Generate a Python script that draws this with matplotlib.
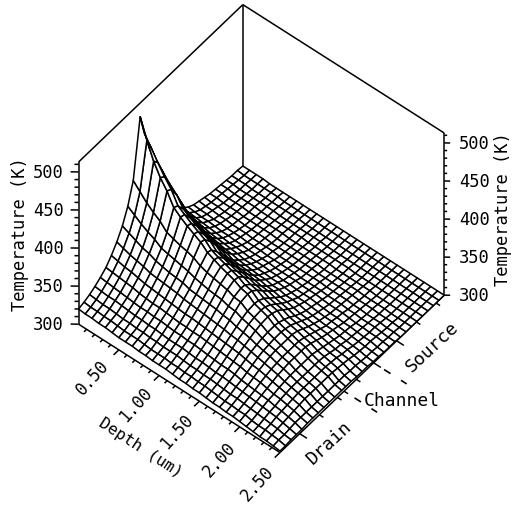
import numpy as np
import matplotlib
matplotlib.use("Agg")
import matplotlib.pyplot as plt
from mpl_toolkits.mplot3d import proj3d

plt.rcParams['font.family'] = ['DejaVu Sans Mono']

# depth in um, one row of the table per depth
depth = [0.0, 0.083, 0.167, 0.25, 0.333, 0.417, 0.5, 0.583, 0.667, 0.75, 0.833, 0.917, 1.0,
         1.083, 1.167, 1.25, 1.333, 1.417, 1.5, 1.583, 1.667, 1.75, 1.833, 1.917, 2.0,
         2.083, 2.167, 2.25, 2.333, 2.417, 2.5]

# position along the device, 0 = drain side, 1 = source side
channel = [0.0, 0.033, 0.067, 0.1, 0.133, 0.167, 0.2, 0.233, 0.267, 0.3, 0.333, 0.375,
           0.4, 0.433, 0.467, 0.5, 0.533, 0.567, 0.6, 0.633, 0.667, 0.7, 0.733, 0.767,
           0.8, 0.833, 0.867, 0.9, 0.933, 0.967, 1.0]

# temperature in K
temperature = [
    [320, 322, 325, 329, 334, 340, 349, 360, 374, 393, 420, 495, 468, 440, 412, 388, 366, 348, 333, 322, 316, 312, 310, 308, 306, 305, 304, 303, 302, 302, 301],
    [319, 321, 324, 328, 333, 339, 347, 357, 370, 387, 411, 470, 455, 431, 406, 383, 362, 345, 331, 321, 315, 311, 309, 307, 306, 305, 304, 303, 302, 301, 301],
    [319, 321, 323, 327, 332, 338, 345, 354, 366, 381, 402, 448, 441, 421, 398, 377, 358, 342, 329, 320, 314, 311, 309, 307, 305, 304, 303, 302, 302, 301, 301],
    [318, 320, 323, 327, 331, 337, 344, 352, 362, 376, 395, 432, 428, 411, 391, 371, 354, 339, 327, 319, 314, 310, 308, 306, 305, 304, 303, 302, 301, 301, 301],
    [318, 320, 322, 326, 330, 336, 342, 350, 360, 372, 389, 420, 417, 403, 384, 366, 350, 336, 325, 318, 313, 310, 308, 306, 305, 304, 303, 302, 301, 301, 300],
    [317, 319, 321, 325, 329, 334, 340, 347, 356, 366, 380, 404, 401, 390, 374, 358, 344, 332, 323, 317, 312, 309, 307, 306, 304, 303, 303, 302, 301, 301, 300],
    [316, 318, 321, 324, 328, 333, 339, 346, 354, 364, 377, 397, 395, 384, 369, 354, 341, 330, 322, 316, 312, 309, 307, 305, 304, 303, 302, 302, 301, 301, 300],
    [316, 318, 320, 324, 328, 332, 338, 345, 352, 362, 374, 391, 389, 379, 365, 351, 339, 328, 321, 315, 311, 309, 307, 305, 304, 303, 302, 302, 301, 300, 300],
    [316, 318, 320, 323, 327, 332, 337, 344, 351, 360, 372, 386, 384, 374, 361, 348, 336, 326, 320, 315, 311, 308, 306, 305, 304, 303, 302, 301, 301, 300, 300],
    [315, 317, 319, 323, 327, 331, 336, 343, 350, 358, 369, 381, 379, 370, 358, 345, 334, 325, 319, 314, 310, 308, 306, 305, 304, 303, 302, 301, 301, 300, 300],
    [315, 316, 319, 322, 326, 330, 335, 341, 347, 355, 364, 373, 371, 362, 351, 340, 330, 323, 317, 313, 310, 308, 306, 304, 303, 303, 302, 301, 301, 300, 300],
    [314, 316, 318, 321, 325, 329, 334, 340, 346, 353, 361, 369, 367, 359, 348, 338, 329, 322, 317, 313, 310, 307, 306, 304, 303, 302, 302, 301, 300, 300, 300],
    [314, 316, 318, 321, 325, 329, 334, 339, 345, 351, 359, 365, 364, 356, 346, 336, 328, 321, 316, 313, 310, 307, 305, 304, 303, 302, 302, 301, 300, 300, 300],
    [314, 315, 318, 321, 324, 328, 333, 338, 344, 350, 357, 362, 361, 353, 344, 335, 327, 320, 316, 312, 309, 307, 305, 304, 303, 302, 301, 301, 300, 300, 300],
    [313, 315, 317, 320, 324, 328, 332, 337, 343, 349, 355, 359, 358, 351, 342, 333, 326, 320, 315, 312, 309, 307, 305, 304, 303, 302, 301, 301, 300, 300, 300],
    [312, 314, 316, 319, 323, 327, 331, 336, 341, 346, 351, 354, 353, 347, 339, 331, 324, 318, 315, 311, 309, 307, 305, 304, 303, 302, 301, 300, 300, 300, 300],
    [312, 314, 316, 319, 322, 326, 330, 335, 340, 345, 350, 352, 351, 345, 337, 330, 323, 318, 314, 311, 309, 306, 305, 304, 303, 302, 301, 300, 300, 300, 300],
    [311, 313, 315, 318, 321, 325, 329, 333, 337, 341, 344, 345, 344, 340, 333, 327, 321, 316, 313, 310, 308, 306, 305, 303, 302, 302, 301, 300, 300, 300, 300],
    [311, 313, 315, 317, 320, 324, 328, 332, 335, 339, 341, 342, 341, 337, 331, 325, 320, 316, 312, 310, 308, 306, 305, 303, 302, 301, 301, 300, 300, 300, 300],
    [310, 312, 314, 317, 320, 323, 327, 330, 333, 336, 338, 339, 338, 335, 329, 323, 318, 315, 312, 310, 308, 306, 304, 303, 302, 301, 301, 300, 300, 300, 300],
    [309, 311, 313, 316, 319, 322, 325, 328, 330, 332, 333, 333, 332, 329, 325, 320, 316, 313, 311, 309, 307, 305, 304, 303, 302, 301, 300, 300, 300, 300, 300],
    [309, 310, 312, 315, 317, 320, 323, 326, 328, 329, 330, 330, 329, 327, 323, 319, 315, 312, 310, 308, 306, 305, 304, 303, 302, 301, 300, 300, 300, 300, 300],
    [308, 310, 312, 314, 316, 319, 322, 324, 326, 327, 327, 327, 327, 325, 321, 317, 314, 311, 309, 307, 306, 305, 304, 303, 302, 301, 300, 300, 300, 300, 300],
    [308, 309, 311, 313, 315, 318, 320, 322, 323, 324, 324, 324, 324, 322, 319, 316, 313, 310, 309, 307, 306, 304, 303, 302, 301, 301, 300, 300, 300, 300, 300],
    [307, 309, 310, 312, 314, 316, 318, 320, 321, 322, 322, 322, 322, 320, 317, 314, 312, 310, 308, 306, 305, 304, 303, 302, 301, 300, 300, 300, 300, 300, 300],
    [306, 307, 309, 311, 313, 314, 316, 317, 318, 318, 318, 318, 318, 316, 314, 312, 310, 308, 307, 306, 304, 303, 302, 302, 301, 300, 300, 300, 300, 300, 300],
    [305, 306, 308, 310, 311, 313, 314, 315, 315, 315, 315, 315, 315, 314, 312, 310, 309, 307, 306, 305, 304, 303, 302, 301, 301, 300, 300, 300, 300, 300, 300],
    [304, 306, 307, 309, 310, 311, 312, 313, 313, 313, 313, 313, 313, 312, 311, 309, 308, 306, 305, 304, 303, 303, 302, 301, 300, 300, 300, 300, 300, 300, 300],
    [304, 305, 306, 307, 308, 309, 310, 311, 311, 311, 311, 311, 311, 310, 309, 308, 306, 305, 304, 304, 303, 302, 301, 301, 300, 300, 300, 300, 300, 300, 300],
    [303, 304, 304, 305, 306, 306, 306, 306, 306, 306, 306, 306, 306, 306, 305, 305, 304, 303, 303, 302, 302, 301, 301, 300, 300, 300, 300, 300, 300, 300, 300],
    [302, 302, 303, 303, 303, 304, 304, 304, 304, 304, 304, 304, 304, 304, 303, 303, 303, 302, 302, 301, 301, 301, 300, 300, 300, 300, 300, 300, 300, 300, 300],
]

temp_major = [300, 350, 400, 450, 500]
temp_minor = [310, 320, 330, 340, 360, 370, 380, 390, 410, 420, 430, 440, 460, 470, 480, 490, 510]
depth_major = [0.5, 1.0, 1.5, 2.0, 2.5]
depth_labels = ['0.50', '1.00', '1.50', '2.00', '2.50']
depth_minor = [0.1, 0.2, 0.3, 0.4, 0.6, 0.7, 0.8, 0.9, 1.1, 1.2, 1.3, 1.4, 1.6, 1.7, 1.8, 1.9, 2.1, 2.2, 2.3, 2.4]
channel_long = [0.12, 0.57, 0.71]
channel_short = [0.24, 0.35, 0.39, 0.465, 0.83, 0.95]
channel_edges = [0.39, 0.57]

D_MAX, Z_MIN, Z_MAX = 2.5, 300, 513

W, H = 514, 506
fig = plt.figure(figsize=(W / 100, H / 100), dpi=100)
ax = fig.add_axes([37 / W, 52 / H, 437 / W, 437 / H], projection='3d', computed_zorder=False)
ax.set_proj_type('ortho')
ax.view_init(elev=51.4, azim=-50.8)
ax.set_box_aspect((1, 1, 1))
ax.set_xlim(0, D_MAX, view_margin=0)
ax.set_ylim(0, 1, view_margin=0)
ax.set_zlim(Z_MIN, Z_MAX, view_margin=0)
ax.set_axis_off()

X, Y = np.meshgrid(depth, channel, indexing='ij')
Z = np.array(temperature, dtype=float)


def seg(p, q, lw=1.1, z=1):
    ax.plot([p[0], q[0]], [p[1], q[1]], [p[2], q[2]], color='black', lw=lw, zorder=z,
            solid_capstyle='butt', clip_on=False)


# box
seg((0, 0, Z_MIN), (0, 0, Z_MAX))
seg((0, 0, Z_MAX), (0, 1, Z_MAX))
seg((0, 1, Z_MAX), (D_MAX, 1, Z_MAX))
seg((D_MAX, 1, Z_MAX), (D_MAX, 1, Z_MIN))
seg((0, 1, Z_MAX), (0, 1, Z_MIN))
seg((0, 0, Z_MIN), (D_MAX, 0, Z_MIN))
seg((D_MAX, 0, Z_MIN), (D_MAX, 1, Z_MIN))

ax.plot_surface(X, Y, Z, rstride=1, cstride=1, color='white', edgecolor='black',
                linewidth=1.1, shade=False, zorder=2)

# temperature ticks, offsets make them horizontal on screen
for t in temp_major:
    seg((0, 0, t), (-0.06, -0.019, t), z=3)
    seg((D_MAX, 1, t), (D_MAX + 0.045, 1 + 0.014, t), z=3)
for t in temp_minor:
    seg((0, 0, t), (-0.03, -0.01, t), z=3)
    seg((D_MAX, 1, t), (D_MAX + 0.022, 1 + 0.007, t), z=3)

for d in depth_major:
    seg((d, 0, Z_MIN), (d, -0.032, Z_MIN), z=3)
for d in depth_minor:
    seg((d, 0, Z_MIN), (d, -0.016, Z_MIN), z=3)

for c in channel_long:
    seg((D_MAX, c, Z_MIN), (D_MAX + 0.09, c, Z_MIN), z=3)
for c in channel_short:
    seg((D_MAX, c, Z_MIN), (D_MAX + 0.05, c, Z_MIN), z=3)
for c in channel_edges:
    seg((D_MAX + 0.13, c, Z_MIN), (D_MAX + 0.21, c, Z_MIN), lw=1.2, z=3)
    seg((D_MAX + 0.34, c, Z_MIN), (D_MAX + 0.41, c, Z_MIN), lw=1.2, z=3)


def px_text(x, y, s, rot=0, size=12.3, ha='center', va='center'):
    fig.text(x / W, 1 - y / H, s, rotation=rot, rotation_mode='anchor', fontsize=size,
             ha=ha, va=va, color='black')


# tick labels sit at fixed screen spots next to the axes
proj = ax.get_proj()
for t in temp_major:
    _, y0, _ = proj3d.proj_transform(0, 0, t, proj)
    px_y = ax.transData.transform((0, y0))[1]
    fig.text(64 / W, px_y / H, str(t), ha='right', va='center', fontsize=12.3)
    _, y1, _ = proj3d.proj_transform(D_MAX, 1, t, proj)
    px_y = ax.transData.transform((0, y1))[1]
    fig.text(459 / W, px_y / H, str(t), ha='left', va='center', fontsize=12.3)

px_text(20, 234, 'Temperature (K)', rot=90)
px_text(503, 209, 'Temperature (K)', rot=90)

for (x, y), s in zip([(93, 378), (136, 405), (177, 432), (219, 460), (257, 484)], depth_labels):
    px_text(x, y, s, rot=48, size=12)
px_text(140, 448, 'Depth (um)', rot=-33, size=11.5)
px_text(329, 443, 'Drain', rot=43, size=13)
px_text(402, 401, 'Channel', size=13)
px_text(432, 347, 'Source', rot=43, size=13)

fig.savefig('out.png', dpi=100)
